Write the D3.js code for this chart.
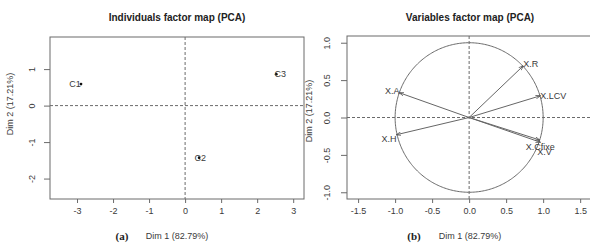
<!DOCTYPE html>
<html>
<head>
<meta charset="utf-8">
<script src="https://cdn.jsdelivr.net/npm/d3@7"></script>
<style>
  body { margin: 0; background: #fff; }
  svg { display: block; font-family: "Liberation Sans", Arial, sans-serif; }
</style>
</head>
<body>
<svg id="chart"></svg>
<script>
// individuals (PCA scores on dim 1 / dim 2)
const indNames = ['C1', 'C2', 'C3']
const indDim1 = [-2.89, 0.39, 2.53]
const indDim2 = [0.59, -1.43, 0.86]

// variables (correlations with dim 1 / dim 2)
const varNames = ['X.R', 'X.LCV', 'X.A', 'X.H', 'X.Cfixe', 'X.V']
const varDim1 = [0.73, 0.96, -0.94, -0.98, 0.96, 0.95]
const varDim2 = [0.69, 0.29, 0.33, -0.23, -0.33, -0.30]

const indXTicks = [-3, -2, -1, 0, 1, 2, 3]
const indYTicks = [-2, -1, 0, 1]
const varXTicks = [-1.5, -1.0, -0.5, 0.0, 0.5, 1.0, 1.5]
const varYTicks = [-1.0, -0.5, 0.0, 0.5, 1.0]

const W = 590, H = 244
const grey = '#6a6a6a'
const textCol = '#3a3a3a'

const svg = d3.select('#chart').attr('width', W).attr('height', H)

// R prints a plain hyphen for negatives
const rFormat = spec => v => d3.format(spec)(v).replace('\u2212', '-')

function panel(opts) {
  const x = d3.scaleLinear().domain(opts.xDom).range([opts.left, opts.right])
  const y = d3.scaleLinear().domain(opts.yDom).range([opts.bottom, opts.top])
  const g = svg.append('g')

  // x axis
  const ax = g.append('g').attr('transform', `translate(0,${opts.bottom})`)
    .call(d3.axisBottom(x).tickValues(opts.xTicks).tickSize(4).tickPadding(5).tickFormat(opts.fmt))
  ax.select('.domain').remove()
  ax.selectAll('line').attr('stroke', grey)
  ax.selectAll('text').attr('fill', textCol).attr('font-size', 9).attr('font-family', null)

  // y axis, labels rotated R-style
  const ay = g.append('g').attr('transform', `translate(${opts.left},0)`)
    .call(d3.axisLeft(y).tickValues(opts.yTicks).tickSize(6).tickFormat(opts.fmt))
  ay.select('.domain').remove()
  ay.selectAll('line').attr('stroke', grey)
  ay.selectAll('text')
    .attr('fill', textCol).attr('font-size', 9).attr('font-family', null)
    .attr('text-anchor', 'middle').attr('dy', 0).attr('x', 0)
    .attr('transform', `translate(${-opts.yLabOff},0) rotate(-90)`)

  // frame
  g.append('rect')
    .attr('x', opts.left).attr('y', opts.top)
    .attr('width', opts.right - opts.left).attr('height', opts.bottom - opts.top)
    .attr('fill', 'none').attr('stroke', grey).attr('stroke-width', 1)

  // zero reference lines
  g.append('line').attr('x1', opts.left).attr('x2', opts.right)
    .attr('y1', y(0)).attr('y2', y(0))
    .attr('stroke', grey).attr('stroke-dasharray', '3,2')
  g.append('line').attr('x1', x(0)).attr('x2', x(0))
    .attr('y1', opts.top).attr('y2', opts.bottom)
    .attr('stroke', grey).attr('stroke-dasharray', '3,2')

  // titles and labels
  const cx = opts.titleX
  g.append('text').attr('x', cx).attr('y', 21).attr('text-anchor', 'middle')
    .attr('font-size', 10).attr('font-weight', 'bold').attr('fill', '#222')
    .text(opts.title)
  g.append('text').attr('x', cx).attr('y', 239).attr('text-anchor', 'middle')
    .attr('font-size', 9).attr('fill', textCol).text('Dim 1 (82.79%)')
  g.append('text').attr('x', opts.tagX).attr('y', 240).attr('text-anchor', 'middle')
    .attr('font-size', 11).attr('font-weight', 'bold').attr('fill', '#222')
    .attr('font-family', '"Liberation Serif", "Times New Roman", serif')
    .text(opts.tag)
  g.append('text')
    .attr('transform', `translate(${opts.yTitleX},${opts.yTitleY}) rotate(-90)`)
    .attr('text-anchor', 'middle').attr('font-size', 9).attr('fill', textCol)
    .text('Dim 2 (17.21%)')

  return { x, y, g }
}

// ---- (a) individuals
const a = panel({
  left: 50, right: 304, top: 37, bottom: 199,
  xDom: [-3.75, 3.3], yDom: [-2.56, 1.88],
  xTicks: indXTicks, yTicks: indYTicks, fmt: rFormat('d'),
  yLabOff: 15, title: 'Individuals factor map (PCA)', titleX: 177,
  tag: '(a)', tagX: 122, yTitleX: 13, yTitleY: 104
})

const inds = indNames.map((n, i) => ({ name: n, d1: indDim1[i], d2: indDim2[i] }))
a.g.selectAll('.pt').data(inds).join('circle')
  .attr('cx', d => a.x(d.d1)).attr('cy', d => a.y(d.d2))
  .attr('r', 1.4).attr('fill', '#111')
const indDx = { C1: -6, C2: 1, C3: 4 }
a.g.selectAll('.lab').data(inds).join('text')
  .attr('x', d => a.x(d.d1) + indDx[d.name]).attr('y', d => a.y(d.d2) + 3)
  .attr('text-anchor', 'middle').attr('font-size', 9).attr('fill', textCol)
  .text(d => d.name)

// ---- (b) variables
const b = panel({
  left: 347, right: 592, top: 36, bottom: 199,
  xDom: [-1.65, 1.66], yDom: [-1.09, 1.09],
  xTicks: varXTicks, yTicks: varYTicks, fmt: rFormat('.1f'),
  yLabOff: 17, title: 'Variables factor map (PCA)', titleX: 470,
  tag: '(b)', tagX: 414, yTitleX: 312, yTitleY: 111
})

const circle = d3.line().x(t => b.x(Math.cos(t))).y(t => b.y(Math.sin(t)))
b.g.append('path')
  .datum(d3.range(0, 2 * Math.PI + 0.01, 0.02))
  .attr('d', circle).attr('fill', 'none').attr('stroke', grey).attr('stroke-width', 1)

svg.append('defs').append('marker').attr('id', 'arr')
  .attr('viewBox', '0 0 10 10').attr('refX', 9).attr('refY', 5)
  .attr('markerWidth', 5).attr('markerHeight', 5).attr('orient', 'auto')
  .append('path').attr('d', 'M0,1.5 L10,5 L0,8.5').attr('fill', 'none').attr('stroke', '#555').attr('stroke-width', 1.5)

const vars = varNames.map((n, i) => ({ name: n, d1: varDim1[i], d2: varDim2[i] }))
b.g.selectAll('.arrow').data(vars).join('line')
  .attr('x1', b.x(0)).attr('y1', b.y(0))
  .attr('x2', d => b.x(d.d1)).attr('y2', d => b.y(d.d2))
  .attr('stroke', '#666').attr('stroke-width', 1)
  .attr('marker-end', 'url(#arr)')

// label placement relative to arrow tip
const varLab = {
  'X.R': [0, 1, 'start'], 'X.LCV': [0, 3, 'start'],
  'X.A': [0, 1, 'end'], 'X.H': [0, 7, 'end'],
  'X.Cfixe': [0, 8, 'middle'], 'X.V': [5, 15, 'middle']
}
b.g.selectAll('.vlab').data(vars).join('text')
  .attr('x', d => b.x(d.d1) + varLab[d.name][0])
  .attr('y', d => b.y(d.d2) + varLab[d.name][1])
  .attr('text-anchor', d => varLab[d.name][2])
  .attr('font-size', 9).attr('fill', textCol)
  .text(d => d.name)
</script>
</body>
</html>
